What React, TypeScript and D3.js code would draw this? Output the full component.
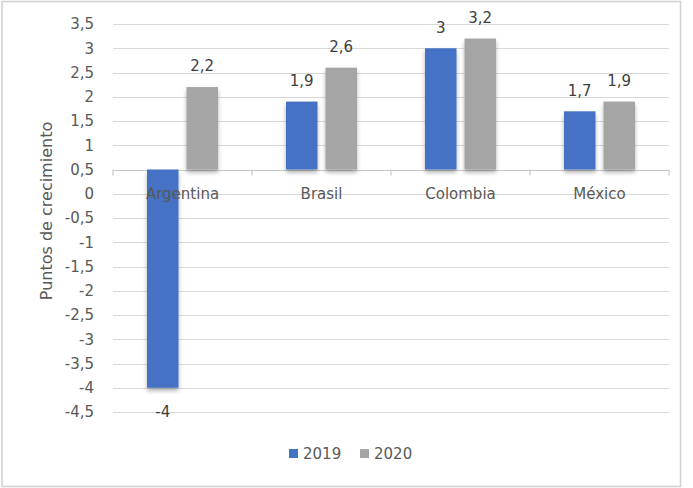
import React from "react";
import * as d3 from "d3";

const categories = ["Argentina", "Brasil", "Colombia", "México"];
const series2019 = [-4, 1.9, 3, 1.7];
const series2020 = [2.2, 2.6, 3.2, 1.9];
const seriesNames = ["2019", "2020"];
const seriesColors = ["#4472c4", "#a5a5a5"];
const yTicks = [-4.5, -4, -3.5, -3, -2.5, -2, -1.5, -1, -0.5, 0, 0.5, 1, 1.5, 2, 2.5, 3, 3.5];
const axisCross = 0.5;

const W = 693;
const H = 488;
const left = 113;
const right = 669;
const top = 24;
const bottom = 412;
const FONT = "'DejaVu Sans', sans-serif";

const fmt = (v: number) => String(v).replace(".", ",");

export default function App() {
  const x = d3.scaleBand<string>().domain(categories).range([left, right]);
  const y = d3.scaleLinear().domain([-4.5, 3.5]).range([bottom, top]);
  const barW = 31.5;
  const gap = 8;
  const all = [series2019, series2020];
  const y0 = y(axisCross);

  return (
    <svg
      width={W}
      height={H}
      style={{ position: "absolute", left: 0, top: 0, background: "#fff" }}
    >
      <defs>
        <filter id="sh" x="-30%" y="-10%" width="160%" height="130%">
          <feDropShadow dx="0" dy="3" stdDeviation="2" floodColor="#000" floodOpacity="0.3" />
        </filter>
      </defs>
      <rect x={0} y={0} width={W} height={H} fill="#fff" />
      <rect x={2} y={1.5} width={678.5} height={485} fill="none" stroke="#d0d0d0" strokeWidth={1.5} />
      {yTicks.map((t) => (
        <g key={t}>
          <line x1={left} x2={right} y1={Math.round(y(t)) + 0.5} y2={Math.round(y(t)) + 0.5} stroke="#d9d9d9" strokeWidth={1.2} />
          <text x={94} y={y(t)} dy="0.36em" textAnchor="end" fontFamily={FONT} fontSize={15} fill="#595959">
            {fmt(t)}
          </text>
        </g>
      ))}
      <line x1={left} x2={right} y1={Math.round(y0) + 0.5} y2={Math.round(y0) + 0.5} stroke="#c8c8c8" strokeWidth={1.2} />
      {d3.range(categories.length + 1).map((i) => {
        const xx = left + i * x.bandwidth();
        return <line key={i} x1={xx} x2={xx} y1={y0} y2={y0 + 6} stroke="#c8c8c8" strokeWidth={1.2} />;
      })}
      {categories.map((c, ci) =>
        all.map((s, si) => {
          const v = s[ci];
          const cx = (x(c) as number) + x.bandwidth() / 2;
          const bx = si === 0 ? cx - gap / 2 - barW : cx + gap / 2;
          const yTop = Math.min(y(v), y0);
          const h = Math.abs(y(v) - y0);
          const neg = v < axisCross;
          return (
            <g key={c + si}>
              <rect x={bx} y={yTop} width={barW} height={h} fill={seriesColors[si]} filter="url(#sh)" />
              <text
                x={bx + barW / 2}
                y={neg ? y(v) + 24 : y(v) - 21}
                dy="0.36em"
                textAnchor="middle"
                fontFamily={FONT}
                fontSize={15}
                fill="#404040"
              >
                {fmt(v)}
              </text>
            </g>
          );
        })
      )}
      {categories.map((c) => (
        <text
          key={c}
          x={(x(c) as number) + x.bandwidth() / 2}
          y={y(0)}
          dy="0.36em"
          textAnchor="middle"
          fontFamily={FONT}
          fontSize={15}
          fill="#595959"
        >
          {c}
        </text>
      ))}
      <text
        transform={`translate(46,211) rotate(-90)`}
        textAnchor="middle"
        dy="0.36em"
        fontFamily={FONT}
        fontSize={16}
        fill="#595959"
      >
        Puntos de crecimiento
      </text>
      {seriesNames.map((n, i) => {
        const lx = i === 0 ? 289 : 360;
        return (
          <g key={n}>
            <rect x={lx} y={449} width={9} height={9} fill={seriesColors[i]} />
            <text x={lx + 14} y={454} dy="0.36em" fontFamily={FONT} fontSize={15} fill="#595959">
              {n}
            </text>
          </g>
        );
      })}
    </svg>
  );
}
